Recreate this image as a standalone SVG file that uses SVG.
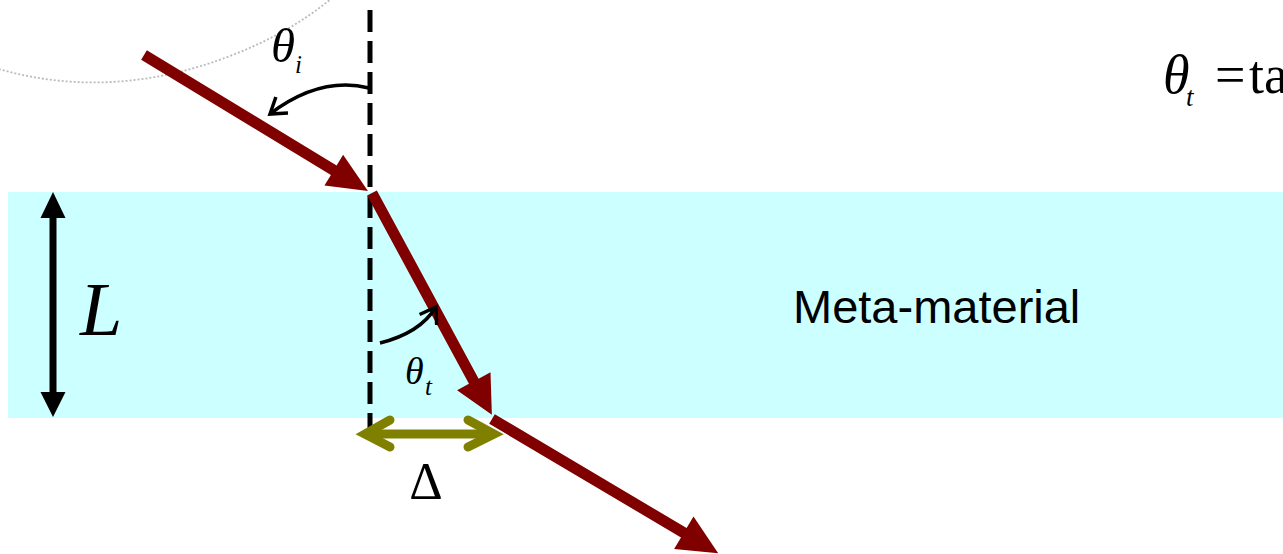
<svg xmlns="http://www.w3.org/2000/svg" width="1283" height="554" viewBox="0 0 1283 554">
<defs>
<style>
.serif{font-family:"Liberation Serif","Times New Roman",serif;fill:#000}
.it{font-style:italic}
.sans{font-family:"Liberation Sans",Arial,sans-serif;fill:#000}
.ray{fill:#800000;stroke:none}
.curve{fill:none;stroke:#000;stroke-width:3.5}
.olive{fill:none;stroke:#808000;stroke-width:9;stroke-linecap:round;stroke-linejoin:miter}
</style>
<marker id="openHead" markerUnits="userSpaceOnUse" markerWidth="30" markerHeight="30" viewBox="-20 -15 30 30" refX="0" refY="0" orient="auto">
<path d="M-15,-10 L0,0 L-15,10" fill="none" stroke="#000" stroke-width="3.5"/>
</marker>
</defs>
<rect width="1283" height="554" fill="#fff"/>
<path d="M-5 68 Q110 102 230 56 Q290 33 332 -2" fill="none" stroke="#bbbbbb" stroke-width="1.8" stroke-dasharray="2 2"/>
<g id="medium">
<rect x="8" y="192" width="1275" height="226" fill="#ccffff"/>
<text class="sans" x="793" y="323" font-size="47">Meta-material</text>
</g>
<g id="connectors">
<line id="normal" x1="370" y1="10" x2="370" y2="442" stroke="#000" stroke-width="5" stroke-dasharray="22 9"/>
<path id="incident" class="ray" transform="translate(144,55) rotate(31.26)" d="M0,-5.5 H222 V-18 L262,0 L222,18 V5.5 H0 Z"/>
<path id="refracted" class="ray" transform="translate(372,193) rotate(61.6)" d="M0,-5.5 H214 V-19 L252,0 L214,19 V5.5 H0 Z"/>
<path id="exit" class="ray" transform="translate(492,419) rotate(30.67)" d="M0,-5.5 H223 V-19 L263,0 L223,19 V5.5 H0 Z"/>
<path id="thetaiArc" class="curve" d="M369 88 Q320 76 270 114" marker-end="url(#openHead)"/>
<path id="thetatArc" class="curve" d="M380 343 Q420 333 436 307" marker-end="url(#openHead)"/>
<g id="delta-arrow">
<path class="olive" d="M366 434 H493"/>
<path class="olive" d="M390 420 L365 434 L390 447"/>
<path class="olive" d="M468 420 L494 434 L468 447"/>
</g>
<g id="L-arrow">
<line x1="53" y1="215" x2="53" y2="395" stroke="#000" stroke-width="7"/>
<polygon points="53,192 40.5,218 65.5,218" fill="#000"/>
<polygon points="53,417 40.5,392 65.5,392" fill="#000"/>
</g>
</g>
<g id="labels">
<text class="serif it" x="271" y="62" font-size="49">θ</text>
<text class="serif it" x="295" y="73" font-size="25">i</text>
<text class="serif it" x="405" y="384" font-size="38">θ</text>
<text class="serif it" x="425" y="395" font-size="25">t</text>
<text class="serif" x="426" y="499" font-size="52" text-anchor="middle">Δ</text>
<text class="serif it" x="80" y="335" font-size="76">L</text>
<text class="serif it" x="1163" y="93" font-size="54">θ</text>
<text class="serif it" x="1186" y="106" font-size="27">t</text>
<text class="serif" x="1215" y="93" font-size="54">=</text>
<text class="serif" x="1249" y="93" font-size="54">ta</text>
</g>
</svg>
